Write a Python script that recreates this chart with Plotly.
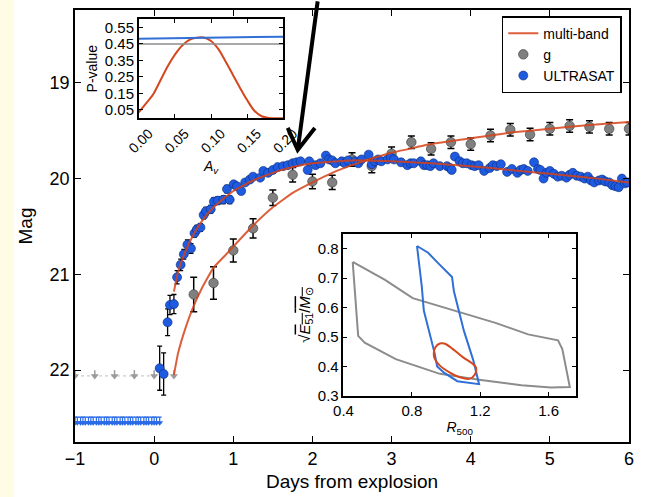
import plotly.graph_objects as go

# ---------------- main panel data ----------------
uv_day = [0.07, 0.12, 0.17, 0.20, 0.25, 0.29, 0.335, 0.375, 0.42, 0.465, 0.51, 0.54, 0.585, 0.625, 0.655,
          0.715, 0.755, 0.805, 0.875, 0.92, 0.955, 1.005, 1.045, 1.10, 1.15, 1.21, 1.25, 1.34, 1.38, 1.44,
          1.50, 1.56, 1.63, 1.69, 1.75, 1.80, 1.85, 1.94, 1.96, 2.04, 2.10, 2.17, 2.21, 2.25, 2.29, 2.37,
          2.41, 2.45, 2.54, 2.58, 2.62, 2.71, 2.75, 2.79, 2.83, 2.87, 2.95, 2.99, 3.03, 3.12, 3.20, 3.24,
          3.28, 3.37, 3.41, 3.45, 3.49, 3.53, 3.61, 3.70, 3.74, 3.76, 3.80, 3.86, 3.90, 3.95, 4.01, 4.05,
          4.10, 4.17, 4.24, 4.28, 4.33, 4.38, 4.46, 4.52, 4.59, 4.63, 4.67, 4.72, 4.80, 4.85, 4.88, 4.92,
          4.96, 5.00, 5.05, 5.10, 5.15, 5.21, 5.25, 5.29, 5.34, 5.39, 5.44, 5.48, 5.52, 5.56, 5.62, 5.66,
          5.70, 5.75, 5.79, 5.83, 5.87, 5.91, 5.95, 5.98]
uv_mag = [21.98, 22.04, 21.50, 21.32, 21.31, 21.03, 20.90, 20.79, 20.69, 20.73, 20.57, 20.53, 20.51, 20.38, 20.34,
          20.32, 20.24, 20.23, 20.22, 20.11, 20.22, 20.06, 20.08, 20.13, 20.04, 20.01, 19.98, 19.99, 19.92, 19.94,
          19.91, 19.88, 19.87, 19.86, 19.84, 19.83, 19.82, 19.91, 19.82, 19.86, 19.84, 19.76, 19.80, 19.81, 19.84, 19.82,
          19.84, 19.81, 19.82, 19.84, 19.80, 19.75, 19.85, 19.82, 19.80, 19.82, 19.80, 19.78, 19.80, 19.83, 19.86, 19.84,
          19.84, 19.82, 19.86, 19.86, 19.87, 19.84, 19.87, 19.87, 19.89, 19.91, 19.77, 19.82, 19.84, 19.84, 19.86, 19.87,
          19.86, 19.92, 19.89, 19.86, 19.87, 19.85, 19.93, 19.90, 19.94, 19.91, 19.90, 19.92, 19.83, 19.90, 19.91, 20.00,
          19.94, 19.92, 19.95, 19.98, 19.97, 19.99, 19.96, 19.94, 19.97, 19.98, 20.00, 19.98, 20.02, 20.04, 20.02, 20.01,
          20.03, 20.04, 20.07, 20.08, 20.09, 20.00, 20.05, 20.04]
uv_err = [0.23, 0.22, 0.14, 0.10, 0.10, 0.07, 0.06, 0.05, 0.05, 0.05, 0.04, 0.04, 0.04, 0.04, 0.04,
          0.04, 0.04, 0.04, 0.04, 0.04, 0.04] + [0.025] * 99

g_day = [0.50, 0.75, 1.00, 1.25, 1.50, 1.75, 2.00, 2.25, 2.50, 2.75, 3.00, 3.25, 3.50, 3.75, 4.00,
         4.25, 4.50, 4.75, 5.00, 5.25, 5.50, 5.75, 6.00]
g_mag = [21.21, 21.09, 20.75, 20.52, 20.20, 19.96, 20.03, 20.04, 19.80, 19.87, 19.74, 19.62, 19.69, 19.62, 19.64,
         19.55, 19.49, 19.54, 19.48, 19.45, 19.46, 19.48, 19.48]
g_err = [0.18, 0.17, 0.12, 0.10, 0.08, 0.075, 0.075, 0.075, 0.07, 0.07, 0.07, 0.065, 0.065, 0.065, 0.065,
         0.065, 0.065, 0.065, 0.065, 0.065, 0.065, 0.065, 0.065]

# upper limits (non-detections)
g_lim_day = [-1.00, -0.75, -0.50, -0.25, 0.00, 0.25]
g_lim_mag = [22.06, 22.06, 22.06, 22.06, 22.06, 22.06]
uv_lim_day = [-1.00, -0.97, -0.93, -0.90, -0.87, -0.83, -0.80, -0.77, -0.73, -0.70, -0.67, -0.63, -0.60,
              -0.57, -0.53, -0.50, -0.47, -0.43, -0.40, -0.37, -0.33, -0.30, -0.27, -0.23, -0.20, -0.17,
              -0.13, -0.10, -0.07, -0.03, 0.00, 0.03, 0.07]
uv_lim_mag = [22.55] * len(uv_lim_day)

# multi-band model curves
model_g_day = [0.25, 0.30, 0.40, 0.50, 0.60, 0.75, 0.90, 1.00, 1.25, 1.50, 1.75, 2.00, 2.25, 2.50, 2.75,
               3.00, 3.50, 4.00, 4.50, 5.00, 5.50, 6.00]
model_g_mag = [22.05, 21.83, 21.55, 21.33, 21.15, 20.93, 20.80, 20.71, 20.49, 20.30, 20.15, 20.04, 19.94, 19.86, 19.79,
               19.73, 19.64, 19.58, 19.52, 19.48, 19.44, 19.41]
model_uv_day = [0.25, 0.30, 0.40, 0.50, 0.60, 0.75, 1.00, 1.25, 1.50, 1.75, 2.00, 2.50, 3.00, 3.50, 4.00, 4.50, 5.00, 5.50, 6.00]
model_uv_mag = [21.18, 20.98, 20.75, 20.58, 20.45, 20.30, 20.13, 20.02, 19.94, 19.88, 19.84, 19.81, 19.82, 19.84, 19.87, 19.91, 19.95, 19.99, 20.04]

# ---------------- inset 1: P-value vs A_v ----------------
av = [0.00, 0.01, 0.02, 0.03, 0.04, 0.05, 0.06, 0.07, 0.08, 0.09, 0.10, 0.11, 0.12, 0.13, 0.14, 0.15, 0.16, 0.17, 0.18, 0.19, 0.20]
p_multi = [0.035, 0.09, 0.145, 0.23, 0.315, 0.385, 0.44, 0.475, 0.488, 0.489, 0.468, 0.42, 0.345, 0.265, 0.185, 0.11, 0.045, 0.012, 0.002, 0.0, 0.0]
av_flat = [0.00, 0.10, 0.20]
p_uv = [0.481, 0.488, 0.494]
p_g = [0.45, 0.45, 0.45]

# ---------------- inset 2: confidence contours ----------------
gray_R = [0.454, 0.471, 0.486, 0.524, 0.706, 0.964, 1.193, 1.441, 1.613, 1.724, 1.699, 1.680, 1.655, 1.480, 1.289, 1.064, 0.805, 0.643, 0.454]
gray_E = [0.755, 0.621, 0.504, 0.481, 0.425, 0.375, 0.355, 0.336, 0.329, 0.330, 0.397, 0.459, 0.489, 0.509, 0.548, 0.588, 0.632, 0.694, 0.755]
blue_R = [0.830, 0.895, 0.955, 1.035, 1.046, 1.105, 1.160, 1.193, 1.066, 0.990, 0.948, 0.932, 0.870, 0.858, 0.830]
blue_E = [0.809, 0.786, 0.750, 0.704, 0.655, 0.520, 0.420, 0.340, 0.350, 0.378, 0.400, 0.448, 0.590, 0.672, 0.809]
red_R = [0.938, 0.964, 0.990, 1.040, 1.100, 1.150, 1.174, 1.168, 1.135, 1.078, 1.020, 0.964, 0.935, 0.928, 0.938]
red_E = [0.465, 0.478, 0.478, 0.459, 0.431, 0.412, 0.398, 0.372, 0.358, 0.364, 0.380, 0.403, 0.425, 0.442, 0.465]

FONT = "Liberation Sans, Arial, Helvetica, sans-serif"
RED = "rgba(214,66,24,0.85)"
BLUE = "#1E5BE0"
GRAY = "#808080"

fig = go.Figure()

# g band upper limits
fig.add_trace(go.Scatter(x=g_lim_day, y=g_lim_mag, mode="lines", line=dict(color="#c0c0c0", width=1, dash="dot"),
                         showlegend=False, hoverinfo="skip"))
fig.add_trace(go.Scatter(x=g_lim_day, y=g_lim_mag, mode="markers",
                         marker=dict(symbol="triangle-down", size=7, color="#9a9a9a"),
                         error_y=dict(type="constant", symmetric=False, value=0, valueminus=0.06,
                                      color="#9a9a9a", thickness=1.5, width=0),
                         showlegend=False, hoverinfo="skip"))
# UV upper limits
fig.add_trace(go.Scatter(x=uv_lim_day, y=uv_lim_mag, mode="markers",
                         marker=dict(symbol="triangle-down", size=6, color="#2a6ae8"),
                         error_y=dict(type="constant", symmetric=False, value=0, valueminus=0.06,
                                      color="#2a6ae8", thickness=1.2, width=2),
                         showlegend=False, hoverinfo="skip"))

# g data
fig.add_trace(go.Scatter(x=g_day, y=g_mag, mode="markers", name="g", legendrank=2,
                         marker=dict(size=9.5, color=GRAY, line=dict(color="#333333", width=0.6)),
                         error_y=dict(type="data", array=g_err, color="black", thickness=1.5, width=3.5)))
# ULTRASAT data
fig.add_trace(go.Scatter(x=uv_day, y=uv_mag, mode="markers", name="ULTRASAT", legendrank=3,
                         marker=dict(size=9, color=BLUE, line=dict(color="#0b2a7a", width=0.6)),
                         error_y=dict(type="data", array=uv_err, color="black", thickness=1.3, width=2.5)))
# models
fig.add_trace(go.Scatter(x=model_g_day, y=model_g_mag, mode="lines", name="multi-band", legendrank=1,
                         line=dict(color=RED, width=2, shape="spline", smoothing=0.3)))
fig.add_trace(go.Scatter(x=model_uv_day, y=model_uv_mag, mode="lines", showlegend=False,
                         line=dict(color=RED, width=2, shape="spline", smoothing=0.4)))

# inset 1
fig.add_trace(go.Scatter(x=av, y=p_multi, xaxis="x2", yaxis="y2", mode="lines", showlegend=False,
                         line=dict(color="#d4471f", width=2, shape="spline", smoothing=0.8)))
fig.add_trace(go.Scatter(x=av_flat, y=p_uv, xaxis="x2", yaxis="y2", mode="lines", showlegend=False,
                         line=dict(color="#2f6fd6", width=2)))
fig.add_trace(go.Scatter(x=av_flat, y=p_g, xaxis="x2", yaxis="y2", mode="lines", showlegend=False,
                         line=dict(color="#8c8c8c", width=1.5)))

# inset 2
fig.add_trace(go.Scatter(x=gray_R, y=gray_E, xaxis="x3", yaxis="y3", mode="lines", showlegend=False,
                         line=dict(color="#8c8c8c", width=2)))
fig.add_trace(go.Scatter(x=blue_R, y=blue_E, xaxis="x3", yaxis="y3", mode="lines", showlegend=False,
                         line=dict(color="#2f6fd6", width=2)))
fig.add_trace(go.Scatter(x=red_R, y=red_E, xaxis="x3", yaxis="y3", mode="lines", showlegend=False,
                         line=dict(color="#d4471f", width=2, shape="spline", smoothing=1.0)))

frame = dict(showline=True, linecolor="black", linewidth=1.5, mirror="allticks", ticks="inside",
             tickcolor="black", showgrid=False, zeroline=False)

fig.update_layout(
    width=654, height=497,
    margin=dict(l=75, r=15, t=8, b=51),
    paper_bgcolor="white", plot_bgcolor="white",
    font=dict(family=FONT, color="black"),
    xaxis=dict(**frame, domain=[0, 1], range=[-1, 6], ticklen=6,
               tickvals=[-1, 0, 1, 2, 3, 4, 5, 6], ticktext=["\u22121", "0", "1", "2", "3", "4", "5", "6"],
               tickfont=dict(size=18),
               title=dict(text="Days from explosion", font=dict(size=19), standoff=6)),
    yaxis=dict(**frame, domain=[0, 1], range=[22.75, 18.24], ticklen=6,
               tickvals=[19, 20, 21, 22], tickfont=dict(size=18),
               title=dict(text="Mag", font=dict(size=19), standoff=12)),
    xaxis2=dict(**frame, domain=[0.1152, 0.3759], anchor="y2", range=[0, 0.2], ticklen=4,
                tickvals=[0, 0.05, 0.1, 0.15, 0.2], ticktext=["0.00", "0.05", "0.10", "0.15", "0.20"],
                tickangle=-45, tickfont=dict(size=14), ticklabelshift=10,
                title=dict(text="<i>A<sub>v</sub></i>", font=dict(size=14), standoff=6)),
    yaxis2=dict(**frame, domain=[0.7495, 0.9788], anchor="x2", range=[0, 0.6], ticklen=4,
                tickvals=[0.05, 0.15, 0.25, 0.35, 0.45, 0.55],
                ticktext=["0.05", "0.15", "0.25", "0.35", "0.45", "0.55"],
                tickfont=dict(size=15),
                title=dict(text="P-value", font=dict(size=14), standoff=4)),
    xaxis3=dict(**frame, domain=[0.4846, 0.9043], anchor="y3", range=[0.4, 1.76], ticklen=4,
                tickvals=[0.4, 0.8, 1.2, 1.6], ticktext=["0.4", "0.8", "1.2", "1.6"],
                tickfont=dict(size=15),
                title=dict(text="<i>R</i><sub>500</sub>", font=dict(size=14), standoff=4)),
    yaxis3=dict(**frame, domain=[0.1066, 0.4817], anchor="x3", range=[0.3, 0.85], ticklen=4,
                tickvals=[0.3, 0.4, 0.5, 0.6, 0.7, 0.8], ticktext=["0.3", "0.4", "0.5", "0.6", "0.7", "0.8"],
                tickfont=dict(size=15),
                title=dict(text="\u221a<span style='text-decoration:overline'><i>E</i><sub>51</sub>/<i>M</i><sub>\u2299</sub></span>",
                           font=dict(size=15), standoff=4)),
    legend=dict(x=0.987, xanchor="right", y=0.986, yanchor="top", bgcolor="white",
                bordercolor="black", borderwidth=1.5, font=dict(size=14), tracegroupgap=0),
    showlegend=True,
)

# pale yellow strip at the far left of the page
fig.add_shape(type="rect", xref="paper", yref="paper", x0=-0.14, x1=-0.110, y0=-0.2, y1=1.1,
              fillcolor="#FFFCE4", line=dict(width=0), layer="below")

# black pointer arrow
fig.add_shape(type="path", xref="paper", yref="paper",
              path="M 0.438,1.02 L 0.402,0.676 M 0.384,0.727 L 0.402,0.676 L 0.433,0.727",
              line=dict(color="black", width=4))

fig.write_html("out.html")
